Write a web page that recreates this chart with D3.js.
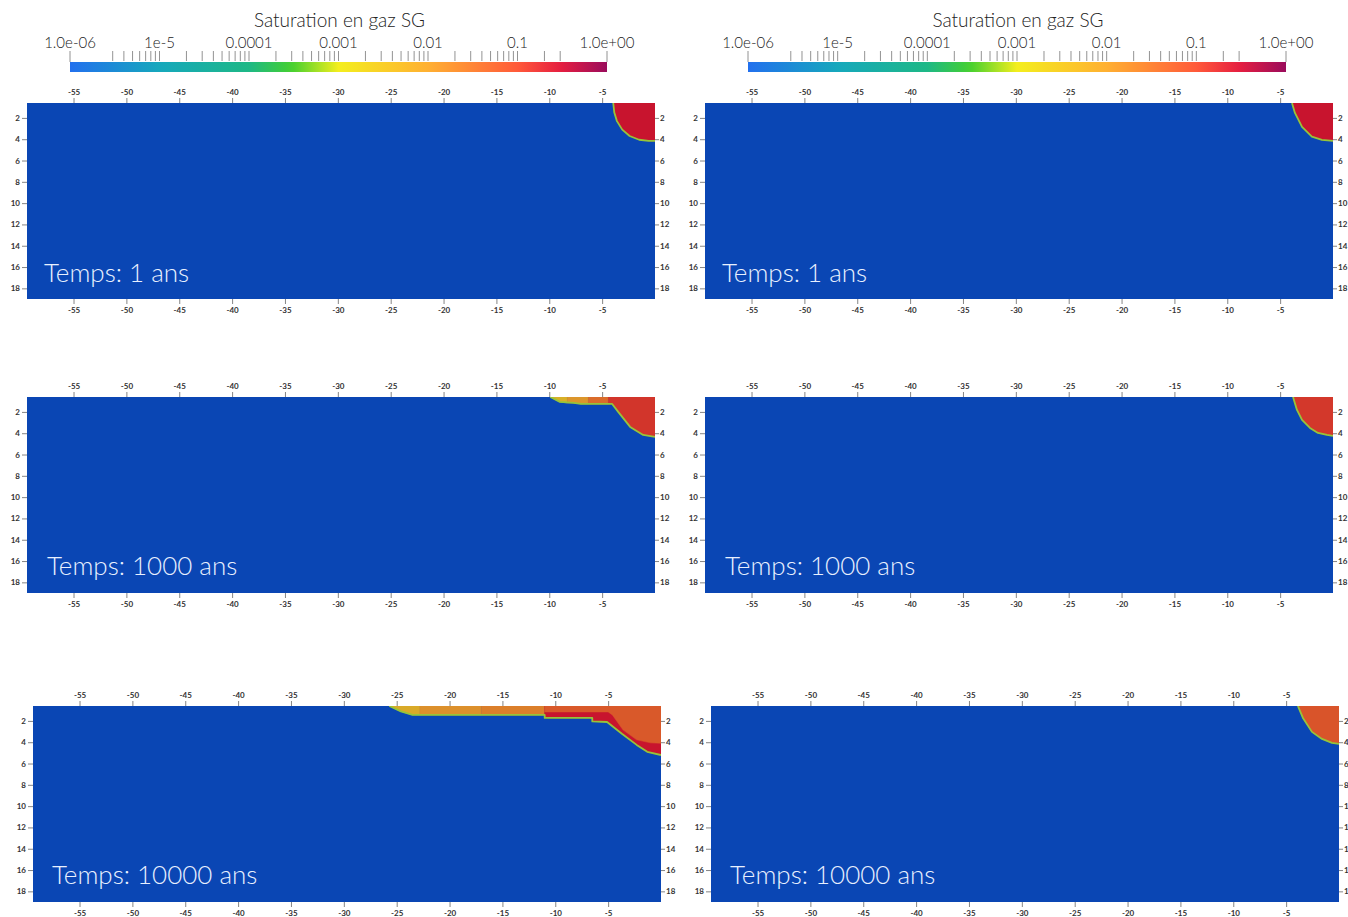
<!DOCTYPE html>
<html><head><meta charset="utf-8">
<script src="https://cdn.jsdelivr.net/npm/d3@7"></script>
<style>body{margin:0;background:#fff;} svg{display:block;}</style>
</head><body>
<svg id="chart" width="1348" height="917"></svg>
<script>
// ---------------- data ----------------
const xTicks = [-55,-50,-45,-40,-35,-30,-25,-20,-15,-10,-5];
const yTicks = [2,4,6,8,10,12,14,16,18];
const xDomain = [-59.4, 0];
const yDomain = [0.6, 19];

const colorbarTitle = "Saturation en gaz SG";
const colorbarLabelValues = [1e-6,1e-5,1e-4,1e-3,1e-2,1e-1,1];
const colorbarLabels = ["1.0e-06","1e-5","0.0001","0.001","0.01","0.1","1.0e+00"];
const colorbarMinorTicks = [3e-6,4e-6,5e-6,6e-6,7e-6,8e-6,9e-6,1e-5,
  2e-5,3e-5,4e-5,5e-5,6e-5,7e-5,8e-5,9e-5,1e-4,
  2e-4,3e-4,4e-4,5e-4,6e-4,7e-4,8e-4,9e-4,1e-3,
  2e-3,3e-3,4e-3,5e-3,6e-3,7e-3,8e-3,9e-3,1e-2,
  2e-2,3e-2,4e-2,5e-2,6e-2,7e-2,8e-2,9e-2,1e-1,
  2e-1,3e-1];

const colorStops = [1e-6,1e-5,1e-4,3e-4,1e-3,1e-2,0.1,0.3,1];
const colorbarColors = ["#2270ee","#16a8bc","#1eb886","#44d030","#f4ee1e","#ffb032","#ff5a3a","#e61e40","#9a0c5c"];
const fieldColors    = ["#0a46b4","#0c86a0","#10a070","#40b42c","#d4c824","#dc962c","#d8482a","#c8142e","#8c0c4c"];
const backgroundSaturation = 1e-6;
const frontColor = "#96c43a";

const timeLabels = ["Temps: 1 ans","Temps: 1 ans","Temps: 1000 ans","Temps: 1000 ans","Temps: 10000 ans","Temps: 10000 ans"];

// gas plume zones per panel: saturation value + boundary [x, depth]
const panel1Zones = [
  {sg: 0.3, pts: [[-3.95,0.6],[-3.85,1.5],[-3.6,2.3],[-3.1,3.1],[-2.4,3.7],[-1.5,4.05],[-0.6,4.15],[0,4.16],[0,0.6]]}
];
const panel1Front = [[-3.95,0.6],[-3.85,1.5],[-3.6,2.3],[-3.1,3.1],[-2.4,3.7],[-1.5,4.05],[-0.6,4.15],[0,4.16]];

const panel2Zones = [
  {sg: 0.3, pts: [[-3.88,0.6],[-3.6,1.53],[-2.93,2.84],[-2.0,3.75],[-1.05,4.06],[0,4.16],[0,0.6]]}
];
const panel2Front = [[-3.88,0.6],[-3.6,1.53],[-2.93,2.84],[-2.0,3.75],[-1.05,4.06],[0,4.16]];

const panel3Zones = [
  {sg: 0.003, pts: [[-9.9,0.6],[-9.0,1.06],[-8.3,1.16],[-8.3,0.6]]},
  {sg: 0.01,  pts: [[-8.3,0.6],[-8.3,1.16],[-7.7,1.16],[-7.0,1.25],[-6.3,1.25],[-6.3,0.6]]},
  {sg: 0.035, pts: [[-6.3,0.6],[-6.3,1.25],[-4.4,1.25],[-4.4,0.6]]},
  {sg: 0.15,  pts: [[-4.4,0.6],[-4.4,1.25],[-4.05,1.25],[-3.48,2.0],[-2.35,3.41],[-1.12,4.16],[0,4.35],[0,0.6]]}
];
const panel3Front = [[-9.9,0.6],[-9.0,1.06],[-7.7,1.16],[-7.0,1.25],[-4.05,1.25],[-3.48,2.0],[-2.35,3.41],[-1.12,4.16],[0,4.35]];

const panel4Zones = [
  {sg: 0.14, pts: [[-3.78,0.6],[-3.41,1.81],[-2.93,2.75],[-2.18,3.5],[-1.42,3.97],[-0.57,4.16],[0,4.25],[0,0.6]]}
];
const panel4Front = [[-3.78,0.6],[-3.41,1.81],[-2.93,2.75],[-2.18,3.5],[-1.42,3.97],[-0.57,4.16],[0,4.25]];

const panel5Zones = [
  {sg: 0.004, pts: [[-25.7,0.6],[-24.6,1.1],[-23.5,1.44],[-22.8,1.44],[-22.8,0.6]]},
  {sg: 0.012, pts: [[-22.8,0.6],[-22.8,1.44],[-17,1.44],[-17,0.6]]},
  {sg: 0.02,  pts: [[-17,0.6],[-17,1.44],[-11,1.44],[-11,0.6]]},
  {sg: 0.3,   pts: [[-11,0.6],[-11,1.72],[-6.5,1.72],[-6.5,2.05],[-5.1,2.1],[-3.7,3.2],[-2.3,4.25],[-1.3,4.9],[0,5.2],[0,0.6]]},
  {sg: 0.06,  pts: [[-11,0.6],[-11,1.16],[-5.0,1.16],[-4.6,1.44],[-3.6,2.84],[-2.3,3.78],[-1.0,4.06],[0,4.1],[0,0.6]]}
];
const panel5Front = [[-25.7,0.6],[-24.6,1.1],[-23.5,1.44],[-11.0,1.44],[-11.0,1.72],[-6.5,1.72],[-6.5,2.05],[-5.1,2.1],[-3.7,3.2],[-2.3,4.25],[-1.3,4.9],[0,5.2]];

const panel6Zones = [
  {sg: 0.07, pts: [[-3.89,0.6],[-3.41,1.72],[-2.56,3.03],[-1.61,3.69],[-0.66,4.06],[0,4.16],[0,0.6]]}
];
const panel6Front = [[-3.89,0.6],[-3.41,1.72],[-2.56,3.03],[-1.61,3.69],[-0.66,4.06],[0,4.16]];

// ---------------- layout ----------------
const PW = 628, PH = 196;
const panels = [
  {left: 27,  top: 103, zones: panel1Zones, front: panel1Front, lx: 17, ly: 179},
  {left: 705, top: 103, zones: panel2Zones, front: panel2Front, lx: 17, ly: 179},
  {left: 27,  top: 397, zones: panel3Zones, front: panel3Front, lx: 20, ly: 178},
  {left: 705, top: 397, zones: panel4Zones, front: panel4Front, lx: 20, ly: 178},
  {left: 33,  top: 706, zones: panel5Zones, front: panel5Front, lx: 19, ly: 178},
  {left: 711, top: 706, zones: panel6Zones, front: panel6Front, lx: 19, ly: 178}
];
const colorbars = [{x0: 70, x1: 607}, {x0: 748, x1: 1286}];

const svg = d3.select("#chart");
const defs = svg.append("defs");

const fieldColor = d3.scaleLog().domain(colorStops).range(fieldColors).interpolate(d3.interpolateRgb).clamp(true);
const barColor = d3.scaleLog().domain(colorStops).range(colorbarColors).interpolate(d3.interpolateRgb).clamp(true);

// ---------------- colorbars ----------------
colorbars.forEach((cb, i) => {
  const s = d3.scaleLog().domain([1e-6, 1]).range([cb.x0, cb.x1]);
  const gid = "cbgrad" + i;
  const grad = defs.append("linearGradient").attr("id", gid)
    .attr("x1", "0%").attr("x2", "100%").attr("y1", "0%").attr("y2", "0%");
  const samples = d3.range(0, 61).map(k => Math.pow(10, -6 + k * 0.1));
  samples.forEach(v => {
    grad.append("stop").attr("offset", ((s(v) - cb.x0) / (cb.x1 - cb.x0) * 100) + "%")
      .attr("stop-color", barColor(v));
  });
  const g = svg.append("g");
  g.append("rect").attr("x", cb.x0).attr("y", 62).attr("width", cb.x1 - cb.x0).attr("height", 10)
    .attr("fill", `url(#${gid})`);
  g.selectAll("line.mt").data(colorbarMinorTicks).join("line")
    .attr("x1", d => s(d)).attr("x2", d => s(d)).attr("y1", 51).attr("y2", 61)
    .attr("stroke", "#777").attr("stroke-width", 0.8);
  g.selectAll("line.et").data([1e-6, 1]).join("line")
    .attr("x1", d => s(d)).attr("x2", d => s(d)).attr("y1", 51).attr("y2", 62)
    .attr("stroke", "#777").attr("stroke-width", 0.8);
  g.selectAll("text.lab").data(colorbarLabelValues).join("text")
    .attr("x", d => s(d)).attr("y", 48).attr("text-anchor", "middle")
    .attr("font-family", "Lato, 'Open Sans', sans-serif").attr("font-weight", 300)
    .attr("font-size", 15).attr("fill", "#222")
    .text((d, j) => colorbarLabels[j]);
  g.append("text").attr("x", (cb.x0 + cb.x1) / 2 + 1).attr("y", 27).attr("text-anchor", "middle")
    .attr("font-family", "Lato, 'Open Sans', sans-serif").attr("font-weight", 300)
    .attr("font-size", 19).attr("fill", "#222")
    .text(colorbarTitle);
});

// ---------------- panels ----------------
panels.forEach((p, i) => {
  const x = d3.scaleLinear().domain(xDomain).range([p.left, p.left + PW]);
  const y = d3.scaleLinear().domain(yDomain).range([p.top, p.top + PH]);
  const line = d3.line().x(d => x(d[0])).y(d => y(d[1]));
  const cid = "clip" + i;
  defs.append("clipPath").attr("id", cid).append("rect")
    .attr("x", p.left).attr("y", p.top).attr("width", PW).attr("height", PH);

  const g = svg.append("g");
  const plot = g.append("g").attr("clip-path", `url(#${cid})`);
  plot.append("rect").attr("x", p.left).attr("y", p.top).attr("width", PW).attr("height", PH)
    .attr("fill", fieldColor(backgroundSaturation));
  plot.selectAll("path.zone").data(p.zones).join("path")
    .attr("d", d => line(d.pts) + "Z")
    .attr("fill", d => fieldColor(d.sg))
    .attr("stroke", d => fieldColor(d.sg)).attr("stroke-width", 0.5);
  plot.append("path").attr("d", line(p.front))
    .attr("fill", "none").attr("stroke", frontColor).attr("stroke-width", 1.8)
    .attr("stroke-linejoin", "round");

  const fmt = d => String(d);
  const styleAxis = sel => {
    sel.select(".domain").remove();
    sel.selectAll(".tick line").attr("stroke", "#666").attr("stroke-width", 0.8);
    sel.selectAll(".tick text").attr("fill", "#333").attr("font-size", 8)
      .attr("font-weight", "bold").attr("font-family", "Lato, 'DejaVu Sans', sans-serif");
  };
  g.append("g").attr("transform", `translate(0,${p.top})`)
    .call(d3.axisTop(x).tickValues(xTicks).tickFormat(fmt).tickSize(5).tickPadding(3)).call(styleAxis);
  g.append("g").attr("transform", `translate(0,${p.top + PH})`)
    .call(d3.axisBottom(x).tickValues(xTicks).tickFormat(fmt).tickSize(5).tickPadding(3)).call(styleAxis);
  g.append("g").attr("transform", `translate(${p.left},0)`)
    .call(d3.axisLeft(y).tickValues(yTicks).tickFormat(fmt).tickSize(5).tickPadding(2)).call(styleAxis);
  g.append("g").attr("transform", `translate(${p.left + PW},0)`)
    .call(d3.axisRight(y).tickValues(yTicks).tickFormat(fmt).tickSize(4).tickPadding(1)).call(styleAxis);

  g.append("text").attr("x", p.left + p.lx).attr("y", p.top + p.ly)
    .attr("font-family", "Lato, 'Open Sans', sans-serif").attr("font-weight", 300)
    .attr("font-size", 26).attr("fill", "#e8f0ff").text(timeLabels[i]);
});
</script>
</body></html>
